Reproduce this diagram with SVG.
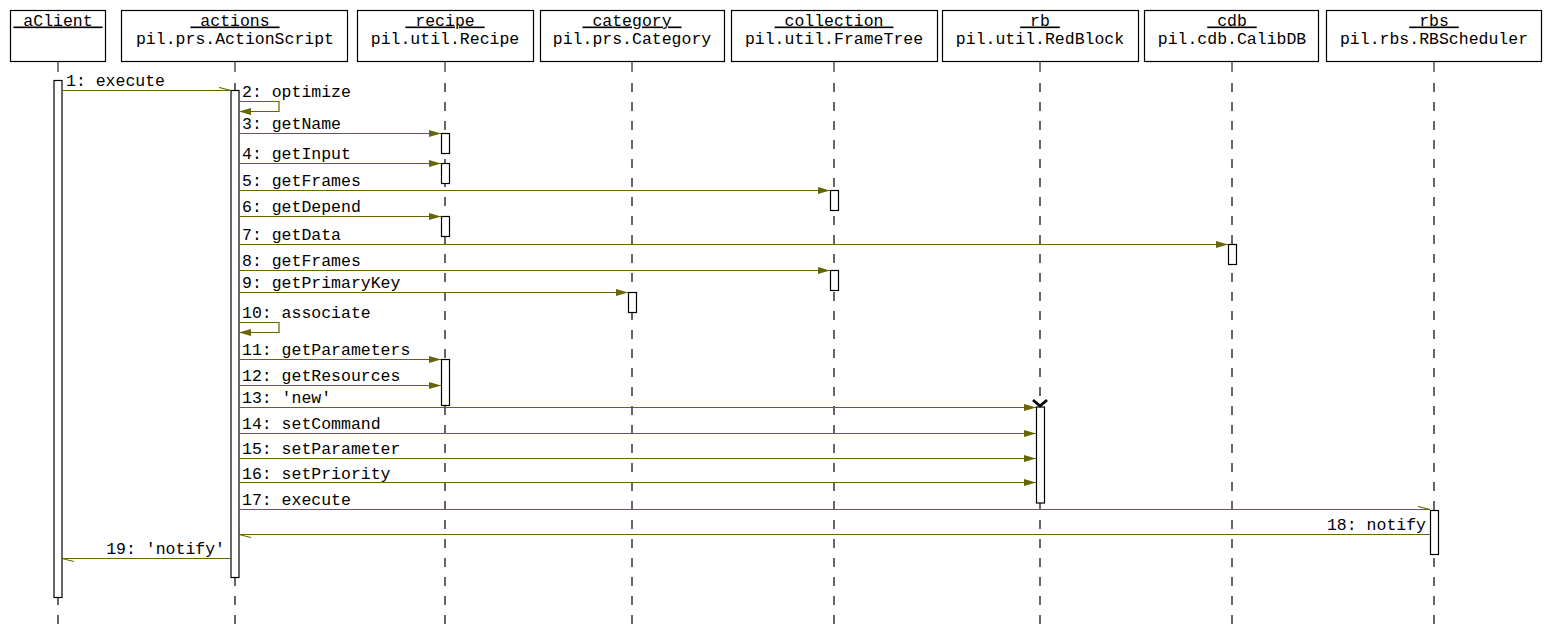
<svg xmlns="http://www.w3.org/2000/svg" width="1552" height="639" viewBox="0 0 1552 639">
<style>
text{font-family:"Liberation Mono","DejaVu Sans Mono",monospace;font-size:16.5px;fill:#000}
.hd{fill:#fff;stroke:#000;stroke-width:1.2}
.t{text-anchor:middle}
.u{text-decoration:underline}
.ls{stroke:#000;stroke-width:1}
.ld{stroke:#000;stroke-width:1.2;stroke-dasharray:9 10}
.act{fill:#fff;stroke:#000;stroke-width:1.2}
.m{fill:none;stroke:#666600;stroke-width:1.2}
.sync{marker-end:url(#fa)}
.async{marker-end:url(#ha)}
</style>
<defs>
<marker id="fa" markerUnits="userSpaceOnUse" markerWidth="13" markerHeight="8" refX="12" refY="3.5" orient="auto">
<path d="M0,0 L12,3.5 L0,7 z" fill="#666600"/>
</marker>
<marker id="ha" markerUnits="userSpaceOnUse" markerWidth="14" markerHeight="6" refX="12" refY="4" orient="auto">
<path d="M0,1 L12,4" fill="none" stroke="#666600" stroke-width="1.2"/>
</marker>
</defs>
<rect width="1552" height="639" fill="#fff"/>

<g id="aClient">
<rect class="hd" x="10.5" y="10.5" width="95" height="51"/>
<text class="t u" x="58" y="25.5">&#160;aClient&#160;</text>
<line class="ls" x1="58" y1="61" x2="58" y2="72"/>
<line class="ld" x1="58" y1="83" x2="58" y2="629"/>
<rect class="act" x="54" y="80.5" width="8" height="517"/>
</g>

<g id="actions">
<rect class="hd" x="121.5" y="10.5" width="226" height="51"/>
<text class="t u" x="235" y="25.5">&#160;actions&#160;</text>
<text class="t" x="235" y="43.5">pil.prs.ActionScript</text>
<line class="ls" x1="235" y1="61" x2="235" y2="72"/>
<line class="ld" x1="235" y1="83" x2="235" y2="629"/>
<rect class="act" x="231" y="90.5" width="8" height="487"/>
</g>

<g id="recipe">
<rect class="hd" x="357.5" y="10.5" width="176" height="51"/>
<text class="t u" x="445" y="25.5">&#160;recipe&#160;</text>
<text class="t" x="445" y="43.5">pil.util.Recipe</text>
<line class="ls" x1="445" y1="61" x2="445" y2="72"/>
<line class="ld" x1="445" y1="83" x2="445" y2="629"/>
<rect class="act" x="441.5" y="133.5" width="8" height="20"/>
<rect class="act" x="441.5" y="163.5" width="8" height="20"/>
<rect class="act" x="441.5" y="216.5" width="8" height="20"/>
<rect class="act" x="441.5" y="359.5" width="8" height="46"/>
</g>

<g id="category">
<rect class="hd" x="540.5" y="10.5" width="184" height="51"/>
<text class="t u" x="632" y="25.5">&#160;category&#160;</text>
<text class="t" x="632" y="43.5">pil.prs.Category</text>
<line class="ls" x1="632" y1="61" x2="632" y2="72"/>
<line class="ld" x1="632" y1="83" x2="632" y2="629"/>
<rect class="act" x="628.5" y="292.5" width="8" height="20"/>
</g>

<g id="collection">
<rect class="hd" x="731.5" y="10.5" width="206" height="51"/>
<text class="t u" x="834" y="25.5">&#160;collection&#160;</text>
<text class="t" x="834" y="43.5">pil.util.FrameTree</text>
<line class="ls" x1="834" y1="61" x2="834" y2="72"/>
<line class="ld" x1="834" y1="83" x2="834" y2="629"/>
<rect class="act" x="830.5" y="190.5" width="8" height="20"/>
<rect class="act" x="830.5" y="270.5" width="8" height="20"/>
</g>

<g id="rb">
<rect class="hd" x="942.5" y="10.5" width="196" height="51"/>
<text class="t u" x="1040" y="25.5">&#160;rb&#160;</text>
<text class="t" x="1040" y="43.5">pil.util.RedBlock</text>
<line class="ls" x1="1040" y1="61" x2="1040" y2="72"/>
<line class="ld" x1="1040" y1="83" x2="1040" y2="629"/>
<rect class="act" x="1036.5" y="407" width="8" height="96"/>
<path d="M1033,400 L1040,406 L1047,400" fill="none" stroke="#000" stroke-width="2.8"/>
</g>

<g id="cdb">
<rect class="hd" x="1144.5" y="10.5" width="174" height="51"/>
<text class="t u" x="1232" y="25.5">&#160;cdb&#160;</text>
<text class="t" x="1232" y="43.5">pil.cdb.CalibDB</text>
<line class="ls" x1="1232" y1="61" x2="1232" y2="72"/>
<line class="ld" x1="1232" y1="83" x2="1232" y2="629"/>
<rect class="act" x="1228.5" y="244.5" width="8" height="20"/>
</g>

<g id="rbs">
<rect class="hd" x="1326.5" y="10.5" width="215" height="51"/>
<text class="t u" x="1434" y="25.5">&#160;rbs&#160;</text>
<text class="t" x="1434" y="43.5">pil.rbs.RBScheduler</text>
<line class="ls" x1="1434" y1="61" x2="1434" y2="72"/>
<line class="ld" x1="1434" y1="83" x2="1434" y2="629"/>
<rect class="act" x="1430.5" y="510.5" width="8" height="44"/>
</g>

<g id="connectors">
<path class="m async" d="M62,90.5 H231"/>
<text x="66" y="86">1: execute</text>
<path class="m sync" d="M239,101.5 H279 V111.5 H239"/>
<text x="242" y="97">2: optimize</text>
<path class="m sync" d="M239,133.5 H441"/>
<text x="242" y="129">3: getName</text>
<path class="m sync" d="M239,163.5 H441"/>
<text x="242" y="159">4: getInput</text>
<path class="m sync" d="M239,190.5 H830"/>
<text x="242" y="186">5: getFrames</text>
<path class="m sync" d="M239,216.5 H441"/>
<text x="242" y="212">6: getDepend</text>
<path class="m sync" d="M239,244.5 H1228"/>
<text x="242" y="240">7: getData</text>
<path class="m sync" d="M239,270.5 H830"/>
<text x="242" y="266">8: getFrames</text>
<path class="m sync" d="M239,292.5 H628"/>
<text x="242" y="288">9: getPrimaryKey</text>
<path class="m sync" d="M239,322.5 H279 V332.5 H239"/>
<text x="242" y="318">10: associate</text>
<path class="m sync" d="M239,359.5 H441"/>
<text x="242" y="355">11: getParameters</text>
<path class="m sync" d="M239,385.5 H441"/>
<text x="242" y="381">12: getResources</text>
<path class="m sync" d="M239,407.5 H1036"/>
<text x="242" y="403">13: 'new'</text>
<path class="m sync" d="M239,433.5 H1036"/>
<text x="242" y="429">14: setCommand</text>
<path class="m sync" d="M239,458.5 H1036"/>
<text x="242" y="454">15: setParameter</text>
<path class="m sync" d="M239,482.5 H1036"/>
<text x="242" y="478.5">16: setPriority</text>
<path class="m async" d="M239,509.5 H1430"/>
<text x="242" y="505">17: execute</text>
<path class="m async" d="M1430,534.5 H239"/>
<text x="1426" y="530" text-anchor="end">18: notify</text>
<path class="m async" d="M231,558.5 H62"/>
<text x="225" y="553.5" text-anchor="end">19: 'notify'</text>
</g>
</svg>
